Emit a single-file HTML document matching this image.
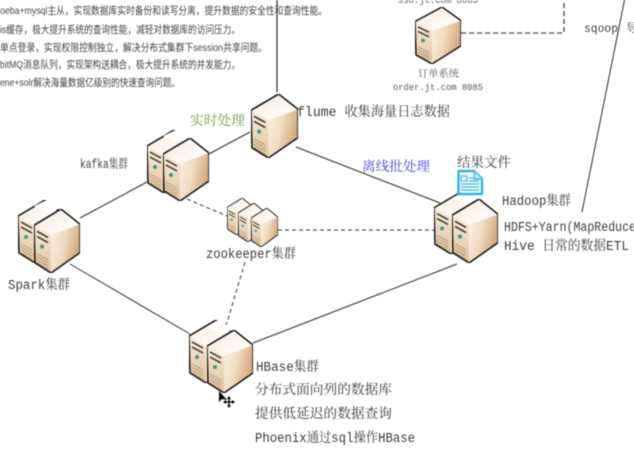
<!DOCTYPE html>
<html>
<head>
<meta charset="utf-8">
<style>
html,body{margin:0;padding:0;background:#fff;width:634px;height:461px;overflow:hidden}
svg{display:block;filter:blur(0.4px)}
.m{font-family:"Liberation Mono","Noto Serif CJK SC",monospace;fill:#3c3c3c;font-size:13.5px}
.s{font-family:"Liberation Sans","Noto Sans CJK SC",sans-serif;fill:#444;font-size:10.5px}
</style>
</head>
<body>
<svg width="634" height="461" viewBox="0 0 634 461" xmlns="http://www.w3.org/2000/svg">
<defs>
<linearGradient id="side" x1="0" y1="0" x2="1" y2="0.35">
<stop offset="0" stop-color="#fbf1e6"/><stop offset="0.5" stop-color="#f0dac0"/><stop offset="1" stop-color="#d2a97c"/>
</linearGradient>
<linearGradient id="front" x1="0" y1="0" x2="0" y2="1">
<stop offset="0" stop-color="#f8ecdc"/><stop offset="1" stop-color="#e0c19c"/>
</linearGradient>
<linearGradient id="top" x1="0" y1="0" x2="1" y2="1">
<stop offset="0" stop-color="#f7e8da"/><stop offset="0.6" stop-color="#fdf8f3"/><stop offset="1" stop-color="#fff"/>
</linearGradient>
<symbol id="srv" viewBox="0 0 46 63" preserveAspectRatio="none">
<polygon points="0,16 27,0 46,15 17,26" fill="url(#top)"/>
<polygon points="17,26 46,15 46,43 17,63" fill="url(#side)"/>
<polygon points="0,16 17,26 17,63 1,53" fill="url(#front)"/>
<path d="M3,22 L14,28 M3,27 L14,33" stroke="#333" stroke-width="1.5" fill="none"/>
<circle cx="8" cy="37" r="2" fill="#3f9a85"/>
<path d="M3,44 L14,50 M3,47 L14,53 M3,50 L14,56 M3,53 L14,59" stroke="#9b8468" stroke-width="0.7" fill="none"/>
<polygon points="0,16 27,0 46,15 46,43 17,63 1,53" fill="none" stroke="#1c1c1c" stroke-width="1.6" stroke-linejoin="round"/>
</symbol>
</defs>

<!-- solid connectors -->
<g stroke="#2a2a2a" stroke-width="1" fill="none">
<line x1="277" y1="0" x2="277" y2="92" stroke-width="1.2"/>
<line x1="250" y1="132" x2="207" y2="155"/>
<line x1="296" y1="147" x2="440" y2="203"/>
<line x1="147" y1="182" x2="80" y2="218"/>
<line x1="70" y1="264" x2="190" y2="334"/>
<line x1="253" y1="343" x2="457" y2="264"/>
<line x1="624.5" y1="0" x2="582" y2="212"/>
</g>
<!-- dashed connectors -->
<g stroke="#333" stroke-width="1" fill="none" stroke-dasharray="4 3">
<line x1="187" y1="199" x2="227" y2="216"/>
<line x1="278" y1="230" x2="434" y2="230"/>
<line x1="245" y1="262" x2="226" y2="326"/>
</g>
<path d="M461,33 H564 V0" stroke="#444" stroke-width="1.300" fill="none" stroke-dasharray="5 3"/>

<!-- servers -->
<use href="#srv" x="415" y="7" width="46" height="57"/>
<use href="#srv" x="251" y="94" width="47" height="64"/>

<use href="#srv" x="147" y="130" width="46" height="63"/>
<polygon points="163,136 176,130 190,140 178,143" fill="#fff"/>
<use href="#srv" x="163" y="138" width="46" height="63"/>

<use href="#srv" x="18" y="200" width="46" height="63"/>
<polygon points="34,206 47,200 60,208 48,213" fill="#fff"/>
<use href="#srv" x="34" y="209" width="46" height="64"/>

<use href="#srv" x="434" y="192" width="46" height="62"/>
<polygon points="452,198 463,192 478,200 466,204" fill="#fff"/>
<use href="#srv" x="452" y="199" width="46" height="64"/>

<use href="#srv" x="189" y="320" width="46" height="63"/>
<polygon points="207,327 218,320 234,329 222,334" fill="#fff"/>
<use href="#srv" x="207" y="330" width="46" height="63"/>

<use href="#srv" x="227" y="198" width="26" height="37"/>
<use href="#srv" x="238" y="203" width="27" height="39"/>
<use href="#srv" x="251" y="208" width="27" height="39"/>

<!-- document icon -->
<path d="M458.500,171 H474 L482,179 V194 H458.500 Z" fill="#fff" stroke="#2bb4e4" stroke-width="2.400" stroke-linejoin="round"/>
<path d="M474,171 V179 H482" fill="#bfe8f7" stroke="#2bb4e4" stroke-width="1.200"/>
<rect x="461" y="176" width="6" height="5" fill="none" stroke="#2bb4e4" stroke-width="1.200"/>
<path d="M469,178 H473 M469,181 H479 M461,184 H479 M461,187 H479 M461,190 H479" stroke="#2bb4e4" stroke-width="1.200"/>

<!-- top-left notes -->
<text class="s" x="0" y="14" textLength="327" lengthAdjust="spacingAndGlyphs">oeba+mysql主从，实现数据库实时备份和读写分离，提升数据的安全性和查询性能。</text>
<text class="s" x="0" y="33" textLength="240" lengthAdjust="spacingAndGlyphs">is缓存，极大提升系统的查询性能，减轻对数据库的访问压力。</text>
<text class="s" x="0" y="51" textLength="267" lengthAdjust="spacingAndGlyphs">单点登录，实现权限控制独立，解决分布式集群下session共享问题。</text>
<text class="s" x="0" y="68" textLength="240" lengthAdjust="spacingAndGlyphs">bitMQ消息队列，实现架构送耦合，极大提升系统的并发能力。</text>
<text class="s" x="0" y="86" textLength="180" lengthAdjust="spacingAndGlyphs">ene+solr解决海量数据亿级别的快速查询问题。</text>

<!-- labels -->
<text class="m" x="398" y="3" style="font-size:10px;fill:#555" textLength="80" lengthAdjust="spacingAndGlyphs">sso.jt.com 8085</text>
<text class="m" x="418" y="77" style="font-size:10px;fill:#555" textLength="41" lengthAdjust="spacingAndGlyphs">订单系统</text>
<text class="m" x="393" y="90" style="font-size:9.500px;fill:#555" textLength="90" lengthAdjust="spacingAndGlyphs">order.jt.com 8085</text>
<text class="m" x="584" y="32" style="font-size:11.500px" textLength="34" lengthAdjust="spacingAndGlyphs">sqoop</text>
<text class="m" x="626" y="32" style="font-size:12px">导</text>

<text class="m" x="297" y="116" textLength="153" lengthAdjust="spacingAndGlyphs">flume 收集海量日志数据</text>
<text class="m" x="190" y="125" style="fill:#6d9a45" textLength="55" lengthAdjust="spacingAndGlyphs">实时处理</text>
<text class="m" x="80" y="168" style="font-size:12.500px" textLength="48" lengthAdjust="spacingAndGlyphs">kafka集群</text>
<text class="m" x="362" y="171" style="fill:#4646d0" textLength="68" lengthAdjust="spacingAndGlyphs">离线批处理</text>
<text class="m" x="457" y="167" textLength="54" lengthAdjust="spacingAndGlyphs">结果文件</text>
<text class="m" x="502" y="205" textLength="69" lengthAdjust="spacingAndGlyphs">Hadoop集群</text>
<text class="m" x="504" y="231" textLength="132" lengthAdjust="spacingAndGlyphs">HDFS+Yarn(MapReduce</text>
<text class="m" x="504" y="250" textLength="125" lengthAdjust="spacingAndGlyphs">Hive 日常的数据ETL</text>
<text class="m" x="206" y="258" textLength="90" lengthAdjust="spacingAndGlyphs">zookeeper集群</text>
<text class="m" x="8" y="289" textLength="62" lengthAdjust="spacingAndGlyphs">Spark集群</text>
<text class="m" x="256" y="371" textLength="63" lengthAdjust="spacingAndGlyphs">HBase集群</text>
<text class="m" x="255" y="394" textLength="137" lengthAdjust="spacingAndGlyphs">分布式面向列的数据库</text>
<text class="m" x="255" y="418" textLength="137" lengthAdjust="spacingAndGlyphs">提供低延迟的数据查询</text>
<text class="m" x="255" y="442" textLength="160" lengthAdjust="spacingAndGlyphs">Phoenix通过sql操作HBase</text>

<!-- cursor -->
<polygon points="219,391 219,402 222,399 227,400" fill="#000"/>
<path d="M229,397 V407 M224,402 H234" stroke="#000" stroke-width="1.300"/>
<path d="M227,399 L229,396 L231,399 Z M227,405 L229,408 L231,405 Z M226,400 L223,402 L226,404 Z M232,400 L235,402 L232,404 Z" fill="#000"/>
</svg>
</body>
</html>
